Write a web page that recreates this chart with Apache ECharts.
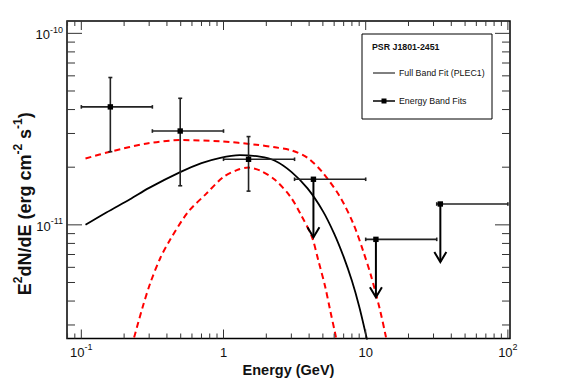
<!DOCTYPE html>
<html>
<head>
<meta charset="utf-8">
<script src="https://cdn.jsdelivr.net/npm/echarts@6/dist/echarts.min.js"></script>
<style>
html,body{margin:0;padding:0;background:#fff;}
#chart{width:567px;height:386px;}
</style>
</head>
<body>
<div id="chart"></div>
<script>
// ---- Data ----
// Full band fit (PLEC1), E^2 dN/dE in erg cm^-2 s^-1 vs Energy in GeV
const fitEnergy = [0.107, 0.15, 0.22, 0.3, 0.5, 0.7, 0.95, 1.3, 1.8, 2.3, 3.0, 3.9, 5.0, 6.0, 7.0, 8.0, 9.0, 10.0, 10.6];
const fitFlux   = [1.00e-11, 1.16e-11, 1.36e-11, 1.56e-11, 1.89e-11, 2.10e-11, 2.24e-11, 2.31e-11, 2.27e-11, 2.16e-11, 1.89e-11, 1.55e-11, 1.18e-11, 9.0e-12, 6.8e-12, 5.1e-12, 3.75e-12, 2.7e-12, 2.2e-12];

// Upper and lower 1-sigma bands (red dashed)
const upperBandEnergy = [0.107, 0.16, 0.29, 0.5, 0.95, 1.7, 2.3, 3.0, 3.9, 5.0, 6.6, 8.2, 9.6, 11.0, 12.6, 13.8, 14.3];
const upperBandFlux   = [2.22e-11, 2.41e-11, 2.66e-11, 2.77e-11, 2.73e-11, 2.62e-11, 2.54e-11, 2.45e-11, 2.24e-11, 1.87e-11, 1.40e-11, 1.01e-11, 7.3e-12, 5.3e-12, 3.6e-12, 2.65e-12, 2.3e-12];
const lowerBandEnergy = [0.225, 0.233, 0.268, 0.305, 0.36, 0.42, 0.56, 0.76, 1.0, 1.24, 1.5, 1.81, 2.3, 2.96, 3.5, 4.18, 4.65, 5.19, 5.62, 6.1, 6.4];
const lowerBandFlux   = [2.30e-12, 2.52e-12, 3.65e-12, 4.95e-12, 6.73e-12, 8.33e-12, 1.16e-11, 1.46e-11, 1.78e-11, 1.93e-11, 1.99e-11, 1.92e-11, 1.72e-11, 1.40e-11, 1.13e-11, 8.67e-12, 6.5e-12, 4.75e-12, 3.59e-12, 2.71e-12, 2.26e-12];

// Energy band fits
const pointEnergy  = [0.16, 0.496, 1.5, 4.29, 11.8, 33.5];
const pointFlux    = [4.13e-11, 3.09e-11, 2.20e-11, 1.73e-11, 8.4e-12, 1.285e-11];
const binLow       = [0.1, 0.316, 1.0, 3.16, 10, 31.6];
const binHigh      = [0.316, 1.0, 3.16, 10, 31.6, 100];
const fluxErrLow   = [2.41e-11, 1.60e-11, 1.50e-11, null, null, null];
const fluxErrHigh  = [5.88e-11, 4.58e-11, 2.89e-11, null, null, null];
const isUpperLimit = [0, 0, 0, 1, 1, 1];

// Axis ticks and labels
const xMajorTicks = [0.1, 1, 10, 100];
const xTickLabels = [['10', '-1'], ['1', ''], ['10', ''], ['10', '2']];
const xMinorTicks = [0.08, 0.09, 0.2, 0.3, 0.4, 0.5, 0.6, 0.7, 0.8, 0.9, 2, 3, 4, 5, 6, 7, 8, 9, 20, 30, 40, 50, 60, 70, 80, 90];
const yMajorTicks = [1e-11, 1e-10];
const yTickLabels = [['10', '-11'], ['10', '-10']];
const yMinorTicks = [3e-12, 4e-12, 5e-12, 6e-12, 7e-12, 8e-12, 9e-12, 2e-11, 3e-11, 4e-11, 5e-11, 6e-11, 7e-11, 8e-11, 9e-11];

const X_MIN = 0.0793, X_MAX = 103.5;
const Y_MIN = 2.55e-12, Y_MAX = 1.16e-10;

// ---- Chart ----
const FONT = '"Liberation Sans", Arial, Helvetica, sans-serif';
const chart = echarts.init(document.getElementById('chart'), null, {renderer: 'svg'});

function findTick(ticks, v) {
  return ticks.findIndex(t => Math.abs(Math.log10(t) - Math.log10(v)) < 1e-6);
}
function fmtLabel(ticks, labels) {
  return function (v) {
    const i = findTick(ticks, v);
    if (i < 0) return '';
    const l = labels[i];
    return l[1] ? '{b|' + l[0] + '}{s|' + l[1] + '}' : '{b|' + l[0] + '}';
  };
}
const labelRich = {
  b: {fontFamily: FONT, fontSize: 13, color: '#111', lineHeight: 16, verticalAlign: 'bottom'},
  s: {fontFamily: FONT, fontSize: 9, color: '#111', lineHeight: 8, verticalAlign: 'top'}
};
const titleRich = {
  b: {fontFamily: FONT, fontSize: 18, fontWeight: 'bold', color: '#111', lineHeight: 22, verticalAlign: 'bottom'},
  s: {fontFamily: FONT, fontSize: 12, fontWeight: 'bold', color: '#111', lineHeight: 11, verticalAlign: 'top'}
};

const zip = (a, b) => a.map((v, i) => [v, b[i]]);

const tickData = [].concat(
  xMajorTicks.map(v => [v, Y_MIN, 1, 0]),
  xMinorTicks.map(v => [v, Y_MIN, 0, 0]),
  yMajorTicks.map(v => [X_MIN, v, 1, 1]),
  yMinorTicks.map(v => [X_MIN, v, 0, 1])
);

const pointData = pointEnergy.map((e, i) => [e, pointFlux[i], binLow[i], binHigh[i],
  fluxErrLow[i] == null ? NaN : fluxErrLow[i], fluxErrHigh[i] == null ? NaN : fluxErrHigh[i], isUpperLimit[i]]);

const option = {
  animation: false,
  backgroundColor: '#fff',
  grid: {left: 67, right: 57, top: 21, bottom: 47.5, show: true, borderColor: '#000', borderWidth: 1.5,
         backgroundColor: 'transparent', containLabel: false, outerBoundsMode: 'none'},
  xAxis: {
    type: 'log', logBase: 10, min: X_MIN, max: X_MAX,
    axisLine: {show: false}, axisTick: {show: false}, splitLine: {show: false}, minorTick: {show: false},
    axisLabel: {customValues: xMajorTicks, formatter: fmtLabel(xMajorTicks, xTickLabels), margin: 4, rich: labelRich,
                showMinLabel: true, showMaxLabel: true, hideOverlap: false},
    name: 'Energy (GeV)', nameLocation: 'middle', nameGap: 24, nameMoveOverlap: false,
    nameTextStyle: {fontFamily: FONT, fontSize: 14.5, fontWeight: 'bold', color: '#111'}
  },
  yAxis: {
    type: 'log', logBase: 10, min: Y_MIN, max: Y_MAX,
    axisLine: {show: false}, axisTick: {show: false}, splitLine: {show: false}, minorTick: {show: false},
    axisLabel: {customValues: yMajorTicks, formatter: fmtLabel(yMajorTicks, yTickLabels), margin: 4, rich: labelRich,
                showMinLabel: true, showMaxLabel: true, hideOverlap: false},
    name: '{b|E}{s|2}{b|dN/dE (erg cm}{s|-2}{b| s}{s|-1}{b|)}',
    nameLocation: 'middle', nameRotate: 90, nameGap: 33, nameMoveOverlap: false,
    nameTextStyle: {rich: titleRich, padding: [0, 48, 0, 0]}
  },
  series: [
    {
      name: 'Full Band Fit (PLEC1)', type: 'line', data: zip(fitEnergy, fitFlux),
      showSymbol: false, symbol: 'none', smooth: 0.3, clip: true,
      lineStyle: {color: '#000', width: 1.8}, z: 3
    },
    {
      name: 'Upper band', type: 'line', data: zip(upperBandEnergy, upperBandFlux),
      showSymbol: false, symbol: 'none', smooth: 0.3, clip: true,
      lineStyle: {color: '#ff0000', width: 2, type: [6, 4]}, z: 2
    },
    {
      name: 'Lower band', type: 'line', data: zip(lowerBandEnergy, lowerBandFlux),
      showSymbol: false, symbol: 'none', smooth: 0.3, clip: true,
      lineStyle: {color: '#ff0000', width: 2, type: [6, 4]}, z: 2
    },
    {
      name: 'Energy Band Fits', type: 'custom', data: pointData, encode: {x: 0, y: 1}, z: 4,
      renderItem: function (params, api) {
        const E = api.value(0), F = api.value(1);
        const c = api.coord([E, F]);
        const l = api.coord([api.value(2), F]);
        const r = api.coord([api.value(3), F]);
        const ul = api.value(6);
        const st = {stroke: '#222', lineWidth: 1.6};
        const kids = [
          {type: 'line', shape: {x1: l[0], y1: c[1], x2: r[0], y2: c[1]}, style: st},
          {type: 'line', shape: {x1: l[0], y1: c[1] - 1.8, x2: l[0], y2: c[1] + 1.8}, style: st},
          {type: 'line', shape: {x1: r[0], y1: c[1] - 1.8, x2: r[0], y2: c[1] + 1.8}, style: st}
        ];
        if (ul) {
          const tip = c[1] + 58;
          kids.push({type: 'line', shape: {x1: c[0], y1: c[1], x2: c[0], y2: tip}, style: {stroke: '#000', lineWidth: 2}});
          kids.push({type: 'polyline', shape: {points: [[c[0] - 6, tip - 10], [c[0], tip], [c[0] + 6, tip - 10]]},
                     style: {stroke: '#000', lineWidth: 2, fill: 'none'}});
        } else {
          const lo = api.coord([E, api.value(4)]);
          const hi = api.coord([E, api.value(5)]);
          kids.push({type: 'line', shape: {x1: c[0], y1: lo[1], x2: c[0], y2: hi[1]}, style: st});
          kids.push({type: 'line', shape: {x1: c[0] - 2, y1: lo[1], x2: c[0] + 2, y2: lo[1]}, style: st});
          kids.push({type: 'line', shape: {x1: c[0] - 2, y1: hi[1], x2: c[0] + 2, y2: hi[1]}, style: st});
        }
        kids.push({type: 'rect', shape: {x: c[0] - 2.7, y: c[1] - 2.7, width: 5.4, height: 5.4}, style: {fill: '#000'}});
        return {type: 'group', children: kids};
      }
    },
    {
      name: 'ticks', type: 'custom', data: tickData, encode: {x: 0, y: 1}, z: 5, silent: true,
      renderItem: function (params, api) {
        const cs = params.coordSys;
        const p = api.coord([api.value(0), api.value(1)]);
        const major = api.value(2), isY = api.value(3);
        const st = {stroke: '#333', lineWidth: 1};
        if (!isY) {
          const len = major ? 9 : 5;
          const yb = cs.y + cs.height, yt = cs.y;
          return {type: 'group', children: [
            {type: 'line', shape: {x1: p[0], y1: yb, x2: p[0], y2: yb - len}, style: st},
            {type: 'line', shape: {x1: p[0], y1: yt, x2: p[0], y2: yt + len}, style: st}
          ]};
        } else {
          const len = major ? 15 : 8;
          const xl = cs.x, xr = cs.x + cs.width;
          return {type: 'group', children: [
            {type: 'line', shape: {x1: xl, y1: p[1], x2: xl + len, y2: p[1]}, style: st},
            {type: 'line', shape: {x1: xr, y1: p[1], x2: xr - len, y2: p[1]}, style: st}
          ]};
        }
      }
    }
  ],
  graphic: [
    {type: 'rect', shape: {x: 362, y: 34, width: 130, height: 85}, style: {fill: '#fff', stroke: '#000', lineWidth: 1}, z: 10},
    {type: 'text', x: 372, y: 47, style: {text: 'PSR J1801-2451', font: 'bold 8.8px ' + FONT, fill: '#111', verticalAlign: 'middle'}, z: 11},
    {type: 'line', shape: {x1: 373, y1: 73, x2: 395, y2: 73}, style: {stroke: '#000', lineWidth: 1}, z: 11},
    {type: 'text', x: 399, y: 73, style: {text: 'Full Band Fit (PLEC1)', font: '8.8px ' + FONT, fill: '#111', verticalAlign: 'middle'}, z: 11},
    {type: 'line', shape: {x1: 373, y1: 101, x2: 395, y2: 101}, style: {stroke: '#000', lineWidth: 1.5}, z: 11},
    {type: 'rect', shape: {x: 381.5, y: 98.5, width: 5, height: 5}, style: {fill: '#000'}, z: 11},
    {type: 'text', x: 399, y: 101, style: {text: 'Energy Band Fits', font: '8.8px ' + FONT, fill: '#111', verticalAlign: 'middle'}, z: 11}
  ]
};
chart.setOption(option);
</script>
</body>
</html>
